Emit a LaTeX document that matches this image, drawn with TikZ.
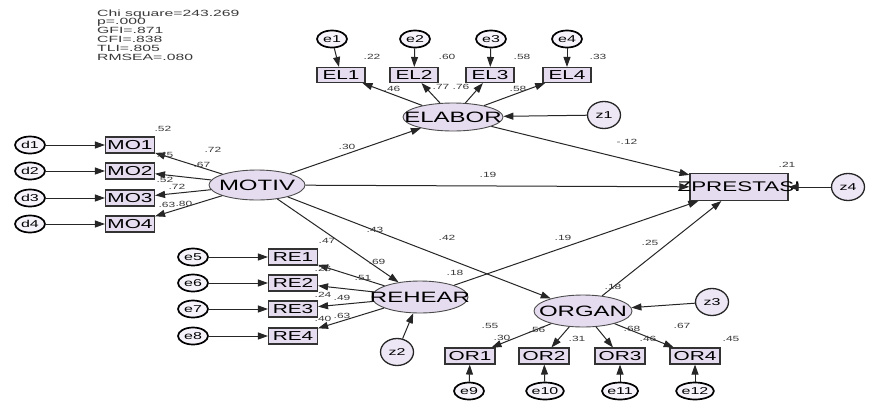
\documentclass[tikz,border=0pt]{standalone}
\usepackage{fontspec}
\setmainfont{Liberation Sans}
\newfontfamily\wf[FakeStretch=1.6]{Liberation Sans}
\newfontfamily\wfs[FakeStretch=1.75]{Liberation Sans}
\usetikzlibrary{arrows.meta,shapes.geometric}
\definecolor{lav}{HTML}{E6DCF0}
\definecolor{numc}{HTML}{3A3A3A}
\newcommand\ctext[1]{\makebox[0pt]{#1}}
\begin{document}
\begin{tikzpicture}[x=1pt,y=-1pt,
  obs/.style={draw=black!80, line width=1.1pt, fill=lav, minimum width=#1, minimum height=16pt, inner sep=0pt, font=\wf\fontsize{13}{13}\selectfont},
  obs/.default=49pt,
  lat/.style={ellipse, draw=black!70, line width=0.9pt, fill=lav, minimum width=#1, inner sep=0pt, font=\wf\fontsize{15}{15}\selectfont},
  lat/.default=98pt,
  err/.style={ellipse, draw=black, line width=1.7pt, fill=lav!35, minimum width=30pt, minimum height=17pt, inner sep=0pt, font=\wf\fontsize{10}{10}\selectfont},
  dist/.style={ellipse, draw=black!85, line width=1.3pt, fill=lav!70, minimum width=33pt, minimum height=27pt, inner sep=0pt, font=\wf\fontsize{10}{10}\selectfont},
  num/.style={inner sep=0pt, text=numc, font=\wf\fontsize{7.5}{7.5}\selectfont},
  stat/.style={inner sep=0pt, anchor=base west, text=numc, font=\wfs\fontsize{9}{9}\selectfont},
  arr/.style={-{Triangle[length=10pt,width=7pt]}, draw=black!85, line width=1pt}
]
\useasboundingbox (0,0) rectangle (869,402);
\fill[white] (0,0) rectangle (869,402);

% fit statistics
\node[stat] (s1) at (97,16) {Chi square=243.269};
\node[stat] (s2) at (97,24.8) {p=.000};
\node[stat] (s3) at (97,33.6) {GFI=.871};
\node[stat] (s4) at (97,42.4) {CFI=.838};
\node[stat] (s5) at (97,51.2) {TLI=.805};
\node[stat] (s6) at (97,60) {RMSEA=.080};

% latent variables
\node[lat=100pt, minimum height=28pt] (ELABOR) at (453,117) {\ctext{ELABOR}};
\node[lat=96pt, minimum height=30pt] (MOTIV) at (257,185) {\ctext{MOTIV}};
\node[lat=96pt, minimum height=32pt] (REHEAR) at (420,297) {\ctext{REHEAR}};
\node[lat=98pt, minimum height=32pt] (ORGAN) at (583,311) {\ctext{ORGAN}};
\node[obs=98pt, minimum height=27pt, font=\wf\fontsize{14}{14}\selectfont] (Z) at (739,187) {\ctext{ZPRESTASI}};

% EL indicators
\node[obs=48pt, minimum height=15pt] (EL1) at (341,75) {EL1};
\node[obs=48pt, minimum height=15pt] (EL2) at (414,75) {EL2};
\node[obs=48pt, minimum height=15pt] (EL3) at (490,75) {EL3};
\node[obs=48pt, minimum height=15pt] (EL4) at (567,75) {EL4};
\node[err] (e1) at (332,39) {e1};
\node[err] (e2) at (415,39) {e2};
\node[err] (e3) at (491,39) {e3};
\node[err] (e4) at (567,39) {e4};

% MO indicators
\node[obs] (MO1) at (130,145) {MO1};
\node[obs] (MO2) at (130,171) {MO2};
\node[obs] (MO3) at (130,198) {MO3};
\node[obs] (MO4) at (130,224) {MO4};
\node[err] (d1) at (30,145) {d1};
\node[err] (d2) at (30,171) {d2};
\node[err] (d3) at (30,198) {d3};
\node[err] (d4) at (30,224) {d4};

% RE indicators
\node[obs] (RE1) at (293,257) {RE1};
\node[obs] (RE2) at (293,283) {RE2};
\node[obs] (RE3) at (293,309) {RE3};
\node[obs] (RE4) at (293,336) {RE4};
\node[err] (e5) at (193,257) {e5};
\node[err] (e6) at (193,283) {e6};
\node[err] (e7) at (193,309) {e7};
\node[err] (e8) at (193,336) {e8};

% OR indicators
\node[obs=50pt] (OR1) at (470,356) {OR1};
\node[obs=50pt] (OR2) at (544,356) {OR2};
\node[obs=50pt] (OR3) at (620,356) {OR3};
\node[obs=50pt] (OR4) at (695,356) {OR4};
\node[err] (e9) at (469,391) {e9};
\node[err] (e10) at (545,391) {e10};
\node[err] (e11) at (620,391) {e11};
\node[err] (e12) at (695,391) {e12};

% disturbances
\node[dist] (z1) at (604,115) {z1};
\node[dist] (z2) at (397,352) {z2};
\node[dist] (z3) at (712,302) {z3};
\node[dist] (z4) at (848,187) {z4};

% measurement arrows
\foreach \i in {1,2,3,4} {
  \draw[arr] (e\i) -- (EL\i);
  \draw[arr] (ELABOR) -- (EL\i);
  \draw[arr] (d\i) -- (MO\i);
  \draw[arr] (MOTIV) -- (MO\i);
  \draw[arr] (REHEAR) -- (RE\i);
}
\draw[arr] (e5) -- (RE1);
\draw[arr] (e6) -- (RE2);
\draw[arr] (e7) -- (RE3);
\draw[arr] (e8) -- (RE4);
\draw[arr] (ORGAN) -- (OR1);
\draw[arr] (ORGAN) -- (OR2);
\draw[arr] (ORGAN) -- (OR3);
\draw[arr] (ORGAN) -- (OR4);
\draw[arr] (e9) -- (OR1);
\draw[arr] (e10) -- (OR2);
\draw[arr] (e11) -- (OR3);
\draw[arr] (e12) -- (OR4);

% disturbance arrows
\draw[arr] (z1) -- (ELABOR);
\draw[arr] (z2) -- (REHEAR);
\draw[arr] (z3) -- (ORGAN);
\draw[arr] (z4) -- (Z);

% structural paths
\draw[arr] (MOTIV) -- (ELABOR);
\draw[arr] (MOTIV) -- (Z);
\draw[arr] (MOTIV) -- (REHEAR);
\draw[arr] (MOTIV) -- (ORGAN);
\draw[arr] (ELABOR) -- (Z);
\draw[arr] (REHEAR) -- (Z);
\draw[arr] (ORGAN) -- (Z);

% estimates: EL
\node[num] (n1) at (372,57) {.22};
\node[num] (n2) at (447,57) {.60};
\node[num] (n3) at (522,57) {.58};
\node[num] (n4) at (598,57) {.33};
\node[num] (n5) at (392,89) {.46};
\node[num] (n6) at (441,87) {.77};
\node[num] (n7) at (461,87) {.76};
\node[num] (n8) at (518,89) {.58};
% MO
\node[num] (n9) at (163,129) {.52};
\node[num] (n10) at (213,150) {.72};
\node[num] (n11) at (165,155) {.45};
\node[num] (n12) at (202,165) {.67};
\node[num] (n13) at (165,180) {.52};
\node[num] (n14) at (177,187) {.72};
\node[num] (n15) at (167,205) {.63};
\node[num] (n16) at (184,204) {.80};
% RE
\node[num] (n17) at (327,241) {.47};
\node[num] (n18) at (377,262) {.69};
\node[num] (n19) at (323,269) {.26};
\node[num] (n20) at (363,278) {.51};
\node[num] (n21) at (323,295) {.24};
\node[num] (n22) at (342,298) {.49};
\node[num] (n23) at (323,319) {.40};
\node[num] (n24) at (342,316) {.63};
% OR
\node[num] (n25) at (490,326) {.55};
\node[num] (n26) at (502,338) {.30};
\node[num] (n27) at (537,330) {.56};
\node[num] (n28) at (577,339) {.31};
\node[num] (n29) at (632,329) {.68};
\node[num] (n30) at (648,339) {.46};
\node[num] (n31) at (682,326) {.67};
\node[num] (n32) at (731,339) {.45};
% structural
\node[num] (n33) at (347,147) {.30};
\node[num] (n34) at (488,175) {.19};
\node[num] (n35) at (627,142) {-.12};
\node[num] (n36) at (375,230) {.43};
\node[num] (n37) at (447,238) {.42};
\node[num] (n38) at (563,238) {.19};
\node[num] (n39) at (650,243) {.25};
\node[num] (n40) at (455,273) {.18};
\node[num] (n41) at (613,287) {.18};
\node[num] (n42) at (787,165) {.21};
\end{tikzpicture}
\end{document}
